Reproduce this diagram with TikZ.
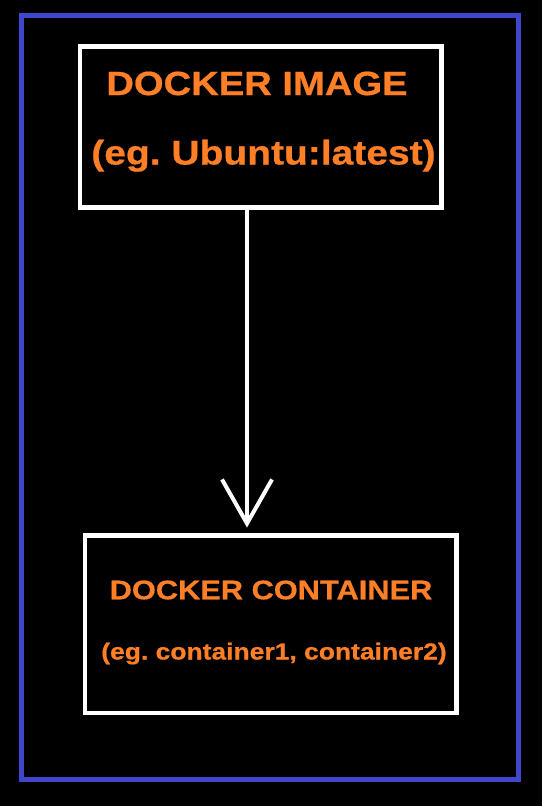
\documentclass[tikz,border=0pt]{standalone}
\usepackage{fontspec}
\usetikzlibrary{arrows.meta}
\newfontfamily\paintfont[FakeStretch=1.14,FakeBold=0.6]{Liberation Sans}
\definecolor{paintblue}{HTML}{3F48CC}
\definecolor{paintorange}{HTML}{FF7F27}
\frenchspacing
\tikzset{
  box/.style={draw=white, line width=4.5pt, inner sep=0pt, outer sep=0pt},
  label/.style={text=paintorange, inner sep=0pt, anchor=base, font=\paintfont\bfseries}
}
\begin{document}
\begin{tikzpicture}[x=1pt, y=-1pt, >={Straight Barb[length=44pt,width=50pt]}]
    \fill[black] (0,0) rectangle (542,806);
    \draw[paintblue, line width=4.8pt] (21.5,15.5) rectangle (518.5,779.3);

    \node [box, minimum width=361.5pt, minimum height=161pt](image) at (260.75,127) {};
    \node [label, font=\paintfont\bfseries\fontsize{33.5}{40}\selectfont](imagetitle) at (257,95) {DOCKER IMAGE};
    \node [label, font=\paintfont\bfseries\fontsize{34.2}{40}\selectfont](imageeg) at (263.5,164.5) {(eg. Ubuntu:latest)};

    \node [box, minimum width=371.7pt, minimum height=177.7pt](container) at (270.65,624.35) {};
    \node [label, font=\paintfont\bfseries\fontsize{27}{32}\selectfont](containertitle) at (271,599.3) {DOCKER CONTAINER};
    \node [label, font=\paintfont\bfseries\fontsize{23.2}{27}\selectfont](containereg) at (274,659.5) {(eg. container1, container2)};

    \draw [->, white, line width=4pt, line cap=round] ([xshift=-13.75pt]image.south) -- ([xshift=-23.65pt,yshift=8pt]container.north);
\end{tikzpicture}
\end{document}
